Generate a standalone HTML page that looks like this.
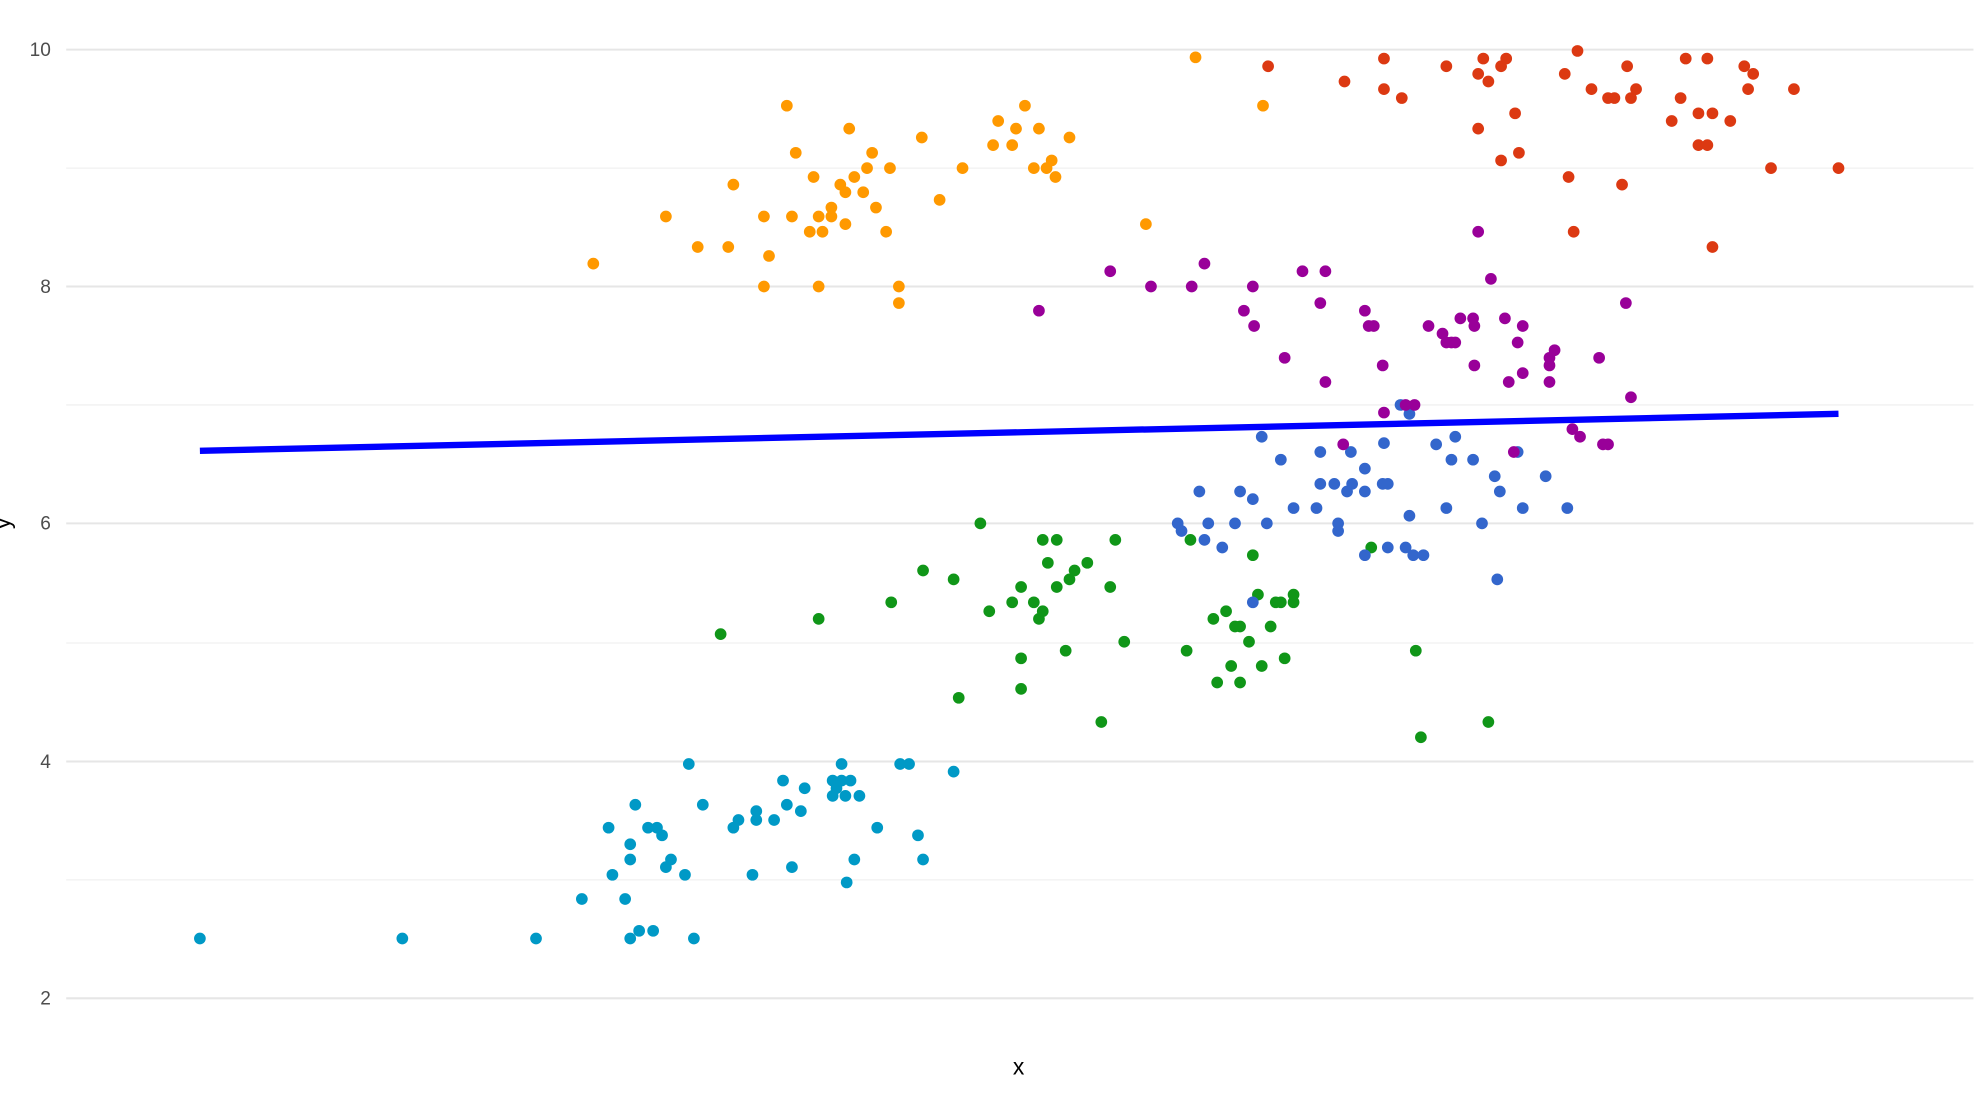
<!DOCTYPE html>
<html><head><meta charset="utf-8"><style>html,body{margin:0;padding:0;background:#fff}svg{display:block}</style></head>
<body>
<svg width="1976" height="1104" viewBox="0 0 1552 867" preserveAspectRatio="none" xmlns="http://www.w3.org/2000/svg" font-family="Liberation Sans, sans-serif">
<g stroke="#f0f0f0" stroke-width="1">
<line x1="52" x2="1550" y1="691" y2="691"/><line x1="52" x2="1550" y1="505" y2="505"/><line x1="52" x2="1550" y1="318" y2="318"/><line x1="52" x2="1550" y1="132" y2="132"/>
</g>
<g stroke="#e6e6e6" stroke-width="1.6">
<line x1="52" x2="1550" y1="784" y2="784"/><line x1="52" x2="1550" y1="598" y2="598"/><line x1="52" x2="1550" y1="411" y2="411"/><line x1="52" x2="1550" y1="225" y2="225"/><line x1="52" x2="1550" y1="39" y2="39"/>
</g>
<g fill="#4d4d4d" font-size="15" text-anchor="end">
<text x="40" y="44">10</text><text x="40" y="230">8</text><text x="40" y="416">6</text><text x="40" y="603">4</text><text x="40" y="789">2</text>
</g>
<text x="800" y="844" font-size="18" text-anchor="middle" fill="#000">x</text>
<text transform="translate(8,411) rotate(-90)" font-size="18" text-anchor="middle" fill="#000">y</text>
<g fill="#0099c6">
<circle cx="157" cy="737" r="4.6"/><circle cx="316" cy="737" r="4.6"/><circle cx="421" cy="737" r="4.6"/><circle cx="457" cy="706" r="4.6"/><circle cx="478" cy="650" r="4.6"/><circle cx="481" cy="687" r="4.6"/><circle cx="491" cy="706" r="4.6"/><circle cx="495" cy="737" r="4.6"/><circle cx="495" cy="663" r="4.6"/><circle cx="495" cy="675" r="4.6"/><circle cx="499" cy="632" r="4.6"/><circle cx="502" cy="731" r="4.6"/><circle cx="509" cy="650" r="4.6"/><circle cx="513" cy="731" r="4.6"/><circle cx="516" cy="650" r="4.6"/><circle cx="520" cy="656" r="4.6"/><circle cx="523" cy="681" r="4.6"/><circle cx="527" cy="675" r="4.6"/><circle cx="538" cy="687" r="4.6"/><circle cx="541" cy="600" r="4.6"/><circle cx="545" cy="737" r="4.6"/><circle cx="552" cy="632" r="4.6"/><circle cx="576" cy="650" r="4.6"/><circle cx="580" cy="644" r="4.6"/><circle cx="591" cy="687" r="4.6"/><circle cx="594" cy="637" r="4.6"/><circle cx="594" cy="644" r="4.6"/><circle cx="608" cy="644" r="4.6"/><circle cx="615" cy="613" r="4.6"/><circle cx="618" cy="632" r="4.6"/><circle cx="622" cy="681" r="4.6"/><circle cx="629" cy="637" r="4.6"/><circle cx="632" cy="619" r="4.6"/><circle cx="654" cy="613" r="4.6"/><circle cx="654" cy="625" r="4.6"/><circle cx="657" cy="619" r="4.6"/><circle cx="661" cy="600" r="4.6"/><circle cx="661" cy="613" r="4.6"/><circle cx="664" cy="625" r="4.6"/><circle cx="665" cy="693" r="4.6"/><circle cx="668" cy="613" r="4.6"/><circle cx="671" cy="675" r="4.6"/><circle cx="675" cy="625" r="4.6"/><circle cx="689" cy="650" r="4.6"/><circle cx="707" cy="600" r="4.6"/><circle cx="714" cy="600" r="4.6"/><circle cx="721" cy="656" r="4.6"/><circle cx="725" cy="675" r="4.6"/><circle cx="749" cy="606" r="4.6"/>
</g>
<g fill="#109618">
<circle cx="566" cy="498" r="4.6"/><circle cx="643" cy="486" r="4.6"/><circle cx="700" cy="473" r="4.6"/><circle cx="725" cy="448" r="4.6"/><circle cx="749" cy="455" r="4.6"/><circle cx="753" cy="548" r="4.6"/><circle cx="770" cy="411" r="4.6"/><circle cx="777" cy="480" r="4.6"/><circle cx="795" cy="473" r="4.6"/><circle cx="802" cy="461" r="4.6"/><circle cx="802" cy="517" r="4.6"/><circle cx="802" cy="541" r="4.6"/><circle cx="812" cy="473" r="4.6"/><circle cx="816" cy="486" r="4.6"/><circle cx="819" cy="424" r="4.6"/><circle cx="819" cy="480" r="4.6"/><circle cx="823" cy="442" r="4.6"/><circle cx="830" cy="424" r="4.6"/><circle cx="830" cy="461" r="4.6"/><circle cx="837" cy="511" r="4.6"/><circle cx="840" cy="455" r="4.6"/><circle cx="844" cy="448" r="4.6"/><circle cx="854" cy="442" r="4.6"/><circle cx="865" cy="567" r="4.6"/><circle cx="872" cy="461" r="4.6"/><circle cx="876" cy="424" r="4.6"/><circle cx="883" cy="504" r="4.6"/><circle cx="932" cy="511" r="4.6"/><circle cx="935" cy="424" r="4.6"/><circle cx="953" cy="486" r="4.6"/><circle cx="956" cy="536" r="4.6"/><circle cx="963" cy="480" r="4.6"/><circle cx="967" cy="523" r="4.6"/><circle cx="970" cy="492" r="4.6"/><circle cx="974" cy="492" r="4.6"/><circle cx="974" cy="536" r="4.6"/><circle cx="981" cy="504" r="4.6"/><circle cx="984" cy="436" r="4.6"/><circle cx="988" cy="467" r="4.6"/><circle cx="991" cy="523" r="4.6"/><circle cx="998" cy="492" r="4.6"/><circle cx="1002" cy="473" r="4.6"/><circle cx="1006" cy="473" r="4.6"/><circle cx="1009" cy="517" r="4.6"/><circle cx="1016" cy="467" r="4.6"/><circle cx="1016" cy="473" r="4.6"/><circle cx="1077" cy="430" r="4.6"/><circle cx="1112" cy="511" r="4.6"/><circle cx="1116" cy="579" r="4.6"/><circle cx="1169" cy="567" r="4.6"/>
</g>
<g fill="#3366cc">
<circle cx="925" cy="411" r="4.6"/><circle cx="928" cy="417" r="4.6"/><circle cx="942" cy="386" r="4.6"/><circle cx="946" cy="424" r="4.6"/><circle cx="949" cy="411" r="4.6"/><circle cx="960" cy="430" r="4.6"/><circle cx="970" cy="411" r="4.6"/><circle cx="974" cy="386" r="4.6"/><circle cx="984" cy="392" r="4.6"/><circle cx="984" cy="473" r="4.6"/><circle cx="991" cy="343" r="4.6"/><circle cx="995" cy="411" r="4.6"/><circle cx="1006" cy="361" r="4.6"/><circle cx="1016" cy="399" r="4.6"/><circle cx="1034" cy="399" r="4.6"/><circle cx="1037" cy="355" r="4.6"/><circle cx="1037" cy="380" r="4.6"/><circle cx="1048" cy="380" r="4.6"/><circle cx="1051" cy="411" r="4.6"/><circle cx="1051" cy="417" r="4.6"/><circle cx="1058" cy="386" r="4.6"/><circle cx="1061" cy="355" r="4.6"/><circle cx="1062" cy="380" r="4.6"/><circle cx="1072" cy="436" r="4.6"/><circle cx="1072" cy="368" r="4.6"/><circle cx="1072" cy="386" r="4.6"/><circle cx="1086" cy="380" r="4.6"/><circle cx="1087" cy="348" r="4.6"/><circle cx="1090" cy="380" r="4.6"/><circle cx="1090" cy="430" r="4.6"/><circle cx="1100" cy="318" r="4.6"/><circle cx="1104" cy="430" r="4.6"/><circle cx="1107" cy="325" r="4.6"/><circle cx="1107" cy="405" r="4.6"/><circle cx="1110" cy="436" r="4.6"/><circle cx="1118" cy="436" r="4.6"/><circle cx="1128" cy="349" r="4.6"/><circle cx="1136" cy="399" r="4.6"/><circle cx="1140" cy="361" r="4.6"/><circle cx="1143" cy="343" r="4.6"/><circle cx="1157" cy="361" r="4.6"/><circle cx="1164" cy="411" r="4.6"/><circle cx="1174" cy="374" r="4.6"/><circle cx="1176" cy="455" r="4.6"/><circle cx="1178" cy="386" r="4.6"/><circle cx="1192" cy="355" r="4.6"/><circle cx="1196" cy="399" r="4.6"/><circle cx="1214" cy="374" r="4.6"/><circle cx="1231" cy="399" r="4.6"/>
</g>
<g fill="#990099">
<circle cx="816" cy="244" r="4.6"/><circle cx="872" cy="213" r="4.6"/><circle cx="904" cy="225" r="4.6"/><circle cx="936" cy="225" r="4.6"/><circle cx="946" cy="207" r="4.6"/><circle cx="977" cy="244" r="4.6"/><circle cx="984" cy="225" r="4.6"/><circle cx="985" cy="256" r="4.6"/><circle cx="1009" cy="281" r="4.6"/><circle cx="1023" cy="213" r="4.6"/><circle cx="1037" cy="238" r="4.6"/><circle cx="1041" cy="213" r="4.6"/><circle cx="1041" cy="300" r="4.6"/><circle cx="1055" cy="349" r="4.6"/><circle cx="1072" cy="244" r="4.6"/><circle cx="1075" cy="256" r="4.6"/><circle cx="1079" cy="256" r="4.6"/><circle cx="1086" cy="287" r="4.6"/><circle cx="1087" cy="324" r="4.6"/><circle cx="1104" cy="318" r="4.6"/><circle cx="1111" cy="318" r="4.6"/><circle cx="1122" cy="256" r="4.6"/><circle cx="1133" cy="262" r="4.6"/><circle cx="1136" cy="269" r="4.6"/><circle cx="1140" cy="269" r="4.6"/><circle cx="1143" cy="269" r="4.6"/><circle cx="1147" cy="250" r="4.6"/><circle cx="1157" cy="250" r="4.6"/><circle cx="1158" cy="256" r="4.6"/><circle cx="1158" cy="287" r="4.6"/><circle cx="1161" cy="182" r="4.6"/><circle cx="1171" cy="219" r="4.6"/><circle cx="1182" cy="250" r="4.6"/><circle cx="1185" cy="300" r="4.6"/><circle cx="1189" cy="355" r="4.6"/><circle cx="1192" cy="269" r="4.6"/><circle cx="1196" cy="256" r="4.6"/><circle cx="1196" cy="293" r="4.6"/><circle cx="1217" cy="287" r="4.6"/><circle cx="1217" cy="281" r="4.6"/><circle cx="1221" cy="275" r="4.6"/><circle cx="1217" cy="300" r="4.6"/><circle cx="1235" cy="337" r="4.6"/><circle cx="1241" cy="343" r="4.6"/><circle cx="1256" cy="281" r="4.6"/><circle cx="1259" cy="349" r="4.6"/><circle cx="1263" cy="349" r="4.6"/><circle cx="1277" cy="238" r="4.6"/><circle cx="1281" cy="312" r="4.6"/>
</g>
<g fill="#ff9900">
<circle cx="466" cy="207" r="4.6"/><circle cx="523" cy="170" r="4.6"/><circle cx="548" cy="194" r="4.6"/><circle cx="572" cy="194" r="4.6"/><circle cx="576" cy="145" r="4.6"/><circle cx="600" cy="225" r="4.6"/><circle cx="600" cy="170" r="4.6"/><circle cx="604" cy="201" r="4.6"/><circle cx="618" cy="83" r="4.6"/><circle cx="622" cy="170" r="4.6"/><circle cx="625" cy="120" r="4.6"/><circle cx="636" cy="182" r="4.6"/><circle cx="639" cy="139" r="4.6"/><circle cx="643" cy="225" r="4.6"/><circle cx="643" cy="170" r="4.6"/><circle cx="646" cy="182" r="4.6"/><circle cx="653" cy="170" r="4.6"/><circle cx="653" cy="163" r="4.6"/><circle cx="660" cy="145" r="4.6"/><circle cx="664" cy="151" r="4.6"/><circle cx="664" cy="176" r="4.6"/><circle cx="667" cy="101" r="4.6"/><circle cx="671" cy="139" r="4.6"/><circle cx="678" cy="151" r="4.6"/><circle cx="681" cy="132" r="4.6"/><circle cx="685" cy="120" r="4.6"/><circle cx="688" cy="163" r="4.6"/><circle cx="696" cy="182" r="4.6"/><circle cx="699" cy="132" r="4.6"/><circle cx="706" cy="225" r="4.6"/><circle cx="706" cy="238" r="4.6"/><circle cx="724" cy="108" r="4.6"/><circle cx="738" cy="157" r="4.6"/><circle cx="756" cy="132" r="4.6"/><circle cx="780" cy="114" r="4.6"/><circle cx="784" cy="95" r="4.6"/><circle cx="795" cy="114" r="4.6"/><circle cx="798" cy="101" r="4.6"/><circle cx="805" cy="83" r="4.6"/><circle cx="812" cy="132" r="4.6"/><circle cx="816" cy="101" r="4.6"/><circle cx="822" cy="132" r="4.6"/><circle cx="826" cy="126" r="4.6"/><circle cx="829" cy="139" r="4.6"/><circle cx="840" cy="108" r="4.6"/><circle cx="900" cy="176" r="4.6"/><circle cx="939" cy="45" r="4.6"/><circle cx="992" cy="83" r="4.6"/>
</g>
<g fill="#dc3912">
<circle cx="996" cy="52" r="4.6"/><circle cx="1056" cy="64" r="4.6"/><circle cx="1087" cy="46" r="4.6"/><circle cx="1087" cy="70" r="4.6"/><circle cx="1101" cy="77" r="4.6"/><circle cx="1136" cy="52" r="4.6"/><circle cx="1161" cy="101" r="4.6"/><circle cx="1161" cy="58" r="4.6"/><circle cx="1165" cy="46" r="4.6"/><circle cx="1169" cy="64" r="4.6"/><circle cx="1179" cy="126" r="4.6"/><circle cx="1179" cy="52" r="4.6"/><circle cx="1183" cy="46" r="4.6"/><circle cx="1190" cy="89" r="4.6"/><circle cx="1193" cy="120" r="4.6"/><circle cx="1229" cy="58" r="4.6"/><circle cx="1232" cy="139" r="4.6"/><circle cx="1236" cy="182" r="4.6"/><circle cx="1239" cy="40" r="4.6"/><circle cx="1250" cy="70" r="4.6"/><circle cx="1263" cy="77" r="4.6"/><circle cx="1268" cy="77" r="4.6"/><circle cx="1274" cy="145" r="4.6"/><circle cx="1278" cy="52" r="4.6"/><circle cx="1281" cy="77" r="4.6"/><circle cx="1285" cy="70" r="4.6"/><circle cx="1313" cy="95" r="4.6"/><circle cx="1320" cy="77" r="4.6"/><circle cx="1324" cy="46" r="4.6"/><circle cx="1334" cy="114" r="4.6"/><circle cx="1334" cy="89" r="4.6"/><circle cx="1341" cy="114" r="4.6"/><circle cx="1345" cy="194" r="4.6"/><circle cx="1345" cy="89" r="4.6"/><circle cx="1341" cy="46" r="4.6"/><circle cx="1359" cy="95" r="4.6"/><circle cx="1370" cy="52" r="4.6"/><circle cx="1373" cy="70" r="4.6"/><circle cx="1377" cy="58" r="4.6"/><circle cx="1391" cy="132" r="4.6"/><circle cx="1409" cy="70" r="4.6"/><circle cx="1444" cy="132" r="4.6"/>
</g>
<line x1="157" y1="354" x2="1444" y2="325" stroke="#0000ff" stroke-width="5"/>
</svg>
</body></html>
